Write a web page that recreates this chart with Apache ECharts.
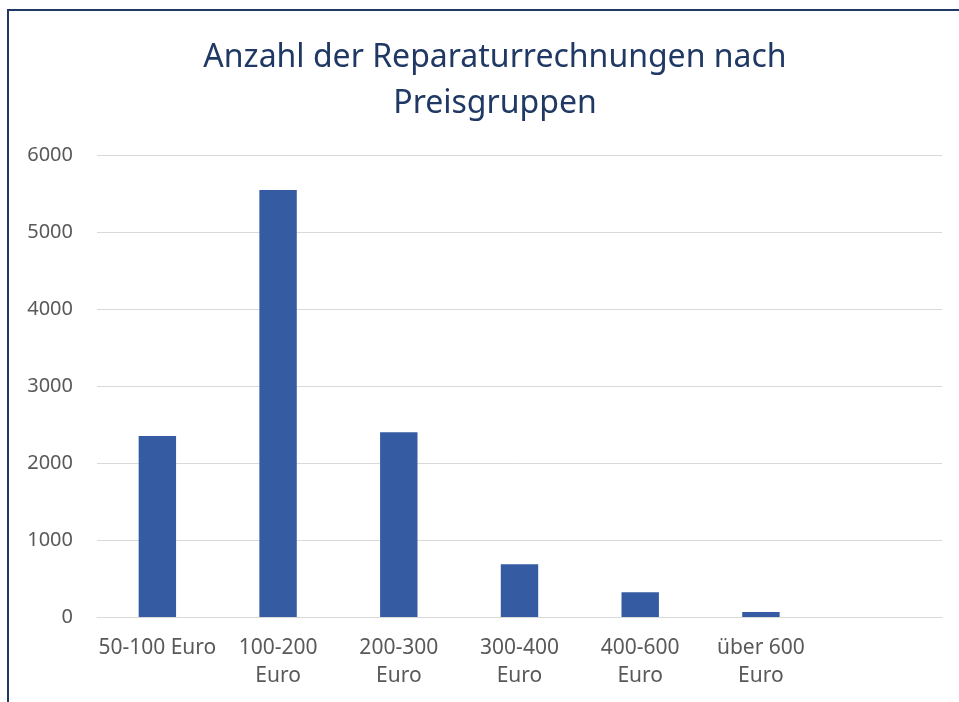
<!DOCTYPE html>
<html>
<head>
<meta charset="utf-8">
<title>Reparaturrechnungen</title>
<script src="https://cdn.jsdelivr.net/npm/echarts@6/dist/echarts.min.js"></script>
<style>
  html, body { margin: 0; padding: 0; background: #fff; }
  #chart { width: 959px; height: 702px; }
</style>
</head>
<body>
<div id="chart"></div>
<script>
// Preisgruppen (letzte Kategorie bleibt leer wie im Original)
const categories = ['50-100 Euro', '100-200\nEuro', '200-300\nEuro', '300-400\nEuro', '400-600\nEuro', 'über 600\nEuro', '']
const counts = [2350, 5545, 2400, 685, 320, 65, null]
const yTicks = [0, 1000, 2000, 3000, 4000, 5000, 6000]

const font = '"Noto Sans", "DejaVu Sans", sans-serif'
const navy = '#1F3864'

const chart = echarts.init(document.getElementById('chart'), null, { renderer: 'canvas' })

chart.setOption({
  animation: false,
  backgroundColor: '#fff',
  textStyle: { fontFamily: font },
  graphic: [{
    // Rahmen oben/links
    type: 'rect',
    shape: { x: 8, y: 10, width: 1200, height: 1200 },
    style: { fill: 'none', stroke: navy, lineWidth: 2 },
    silent: true
  }],
  title: {
    text: 'Anzahl der Reparaturrechnungen nach\nPreisgruppen',
    left: 490,
    top: 30,
    textAlign: 'center',
    textStyle: {
      fontFamily: font,
      fontSize: 32,
      fontWeight: 'normal',
      color: navy,
      lineHeight: 46
    }
  },
  grid: {
    left: 97,
    right: 17,
    top: 155,
    bottom: 85
  },
  xAxis: {
    type: 'category',
    data: categories,
    axisLine: { show: true, lineStyle: { color: '#D9D9D9', width: 1 } },
    axisTick: { show: false },
    axisLabel: {
      interval: 0,
      margin: 17,
      fontFamily: font,
      fontSize: 21,
      lineHeight: 28,
      color: '#595959'
    }
  },
  yAxis: {
    type: 'value',
    min: yTicks[0],
    max: yTicks[yTicks.length - 1],
    interval: 1000,
    axisLine: { show: false },
    axisTick: { show: false },
    splitLine: { lineStyle: { color: '#D9D9D9', width: 1 } },
    axisLabel: {
      margin: 24,
      fontFamily: font,
      fontSize: 20,
      color: '#595959',
      formatter: v => String(v)
    }
  },
  series: [{
    name: 'Anzahl',
    type: 'bar',
    data: counts,
    barWidth: '31%',
    itemStyle: { color: '#355CA3' }
  }]
})
</script>
</body>
</html>
